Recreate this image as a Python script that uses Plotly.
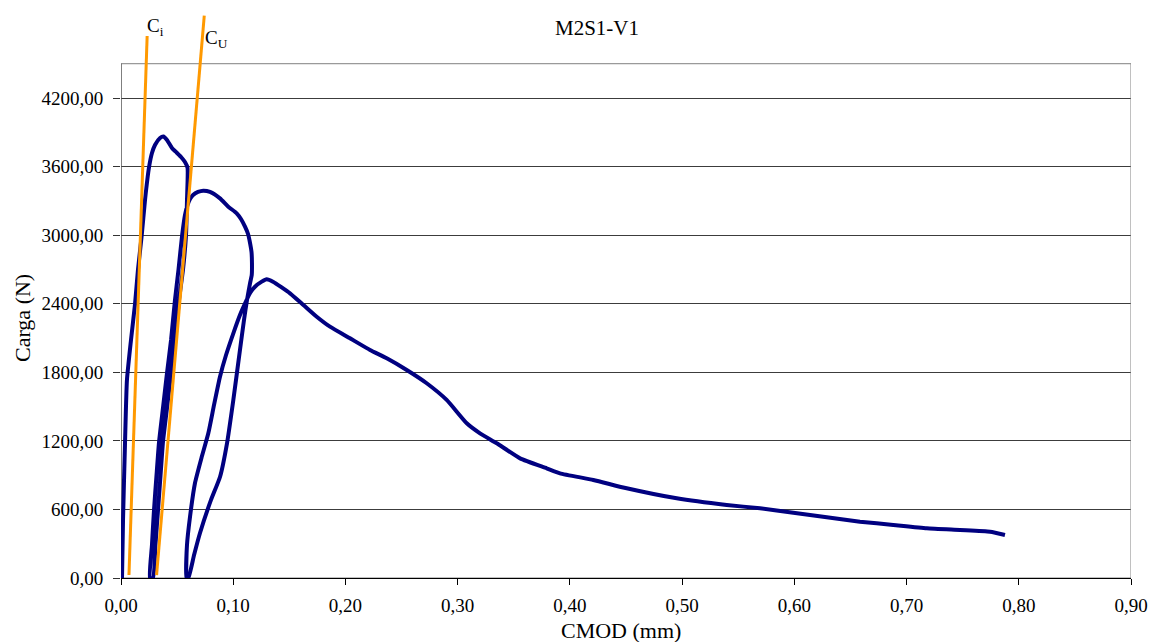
import plotly.graph_objects as go

# ---- data (CMOD in mm, load in N) ----
# first loading + peak
load1_x = [0.0009, 0.0018, 0.0036, 0.0053, 0.0089, 0.0125, 0.0151, 0.0184, 0.0214, 0.0250,
           0.0276, 0.0303, 0.0348, 0.0377, 0.0410, 0.0454, 0.0490, 0.0535, 0.0570, 0.0593]
load1_y = [0, 508, 1190, 1733, 2083, 2398, 2695, 2993, 3308, 3596,
           3719, 3789, 3850, 3863, 3833, 3763, 3728, 3684, 3640, 3588]
# first unloading
unload1_x = [0.0588, 0.0579, 0.0552, 0.0517, 0.0481, 0.0446, 0.0410, 0.0374, 0.0352, 0.0330, 0.0307, 0.0285]
unload1_y = [3308, 2993, 2695, 2433, 2083, 1794, 1488, 1190, 893, 595, 289, 0]
# reloading + second peak
load2_x = [0.0258, 0.0276, 0.0294, 0.0316, 0.0339, 0.0374, 0.0410, 0.0446, 0.0481, 0.0512,
           0.0544, 0.0570, 0.0593, 0.0615, 0.0642, 0.0686, 0.0733, 0.0793, 0.0882, 0.0956,
           0.1031, 0.1069, 0.1105, 0.1132, 0.1150, 0.1163, 0.1167]
load2_y = [0, 289, 595, 893, 1190, 1488, 1794, 2083, 2433, 2695,
           2993, 3176, 3264, 3316, 3351, 3378, 3389, 3378, 3322, 3249,
           3191, 3141, 3074, 3010, 2931, 2853, 2756]
# second unloading
unload2_x = [0.1165, 0.1150, 0.1123, 0.1096, 0.1060, 0.1001, 0.0945, 0.0882, 0.0802, 0.0704, 0.0651, 0.0600]
unload2_y = [2651, 2581, 2433, 2258, 1995, 1558, 1181, 884, 683, 394, 201, 0]
# final reloading + softening branch
load3_x = [0.0585, 0.0588, 0.0615, 0.0659, 0.0717, 0.0778, 0.0829, 0.0882, 0.0936, 0.1001,
           0.1060, 0.1120, 0.1150, 0.1194, 0.1254, 0.1298, 0.1354, 0.1506, 0.1625, 0.1744,
           0.1862, 0.2041, 0.2219, 0.2368, 0.2546, 0.2724, 0.2902, 0.3081, 0.3199, 0.3348,
           0.3556, 0.3793, 0.3912, 0.4209, 0.4506, 0.4952, 0.5397, 0.5694, 0.5991, 0.6289,
           0.6585, 0.6882, 0.7180, 0.7476, 0.7744, 0.7877]
load3_y = [0, 289, 536, 829, 1050, 1266, 1514, 1761, 1951, 2141,
           2301, 2433, 2494, 2549, 2593, 2614, 2593, 2491, 2389, 2286,
           2199, 2097, 1995, 1922, 1820, 1704, 1558, 1354, 1266, 1179,
           1047, 960, 916, 858, 785, 697, 639, 610, 571, 531,
           493, 464, 435, 420, 405, 376]

# compliance lines
ci_x = [0.0071, 0.0233]
ci_y = [26, 4743]
cu_x = [0.0317, 0.0742]
cu_y = [26, 4920]

x_ticks = [0.0, 0.1, 0.2, 0.3, 0.4, 0.5, 0.6, 0.7, 0.8, 0.9]
x_ticktext = ["0,00", "0,10", "0,20", "0,30", "0,40", "0,50", "0,60", "0,70", "0,80", "0,90"]
y_ticks = [0, 600, 1200, 1800, 2400, 3000, 3600, 4200]
y_ticktext = ["0,00", "600,00", "1200,00", "1800,00", "2400,00", "3000,00", "3600,00", "4200,00"]

cmod = load1_x + unload1_x + load2_x + unload2_x + load3_x
carga = load1_y + unload1_y + load2_y + unload2_y + load3_y

FONT = "Liberation Serif, Times New Roman, serif"

fig = go.Figure()
fig.add_trace(go.Scatter(x=cmod, y=carga, mode="lines",
                         line=dict(color="#000080", width=4, shape="spline", smoothing=0.5),
                         showlegend=False, hoverinfo="skip"))
fig.add_trace(go.Scatter(x=ci_x, y=ci_y, mode="lines",
                         line=dict(color="#FF9900", width=3), showlegend=False))
fig.add_trace(go.Scatter(x=cu_x, y=cu_y, mode="lines",
                         line=dict(color="#FF9900", width=3), showlegend=False))

Y_TOP = 5040
fig.update_layout(
    width=1158, height=642,
    margin=dict(l=121, r=27, t=2, b=64),
    paper_bgcolor="white", plot_bgcolor="white",
    font=dict(family=FONT, color="black", size=19),
    xaxis=dict(range=[0, 0.9], tickvals=x_ticks, ticktext=x_ticktext,
               showgrid=False, zeroline=False, showline=True, linecolor="black",
               linewidth=1, ticks="outside", ticklen=6, tickcolor="black",
               tickfont=dict(family=FONT, size=19), ticklabelstandoff=4),
    yaxis=dict(range=[0, Y_TOP], tickvals=y_ticks, ticktext=y_ticktext,
               showgrid=True, gridcolor="#3c3c3c", gridwidth=1,
               zeroline=False, showline=False, ticks="outside", ticklen=7,
               tickcolor="#333333", tickfont=dict(family=FONT, size=19),
               ticklabelstandoff=6),
    shapes=[
        dict(type="rect", xref="x", yref="y", x0=0, x1=0.9, y0=0, y1=4500,
             line=dict(color="#808080", width=1), layer="between"),
        dict(type="line", xref="x", yref="y", x0=0, x1=0, y0=0, y1=4500,
             line=dict(color="#404040", width=1), layer="between"),
    ],
    annotations=[
        dict(text="M2S1-V1", xref="paper", yref="paper", x=(597 - 121) / 1010,
             y=(578 - 28) / 576, xanchor="center", yanchor="middle", showarrow=False,
             font=dict(family=FONT, size=21)),
        dict(text="CMOD (mm)", xref="paper", yref="paper", x=(621 - 121) / 1010,
             y=(578 - 630) / 576, xanchor="center", yanchor="middle", showarrow=False,
             font=dict(family=FONT, size=22)),
        dict(text="Carga (N)", xref="paper", yref="paper", x=(22 - 121) / 1010,
             y=(578 - 318) / 576, xanchor="center", yanchor="middle", showarrow=False,
             textangle=-90, font=dict(family=FONT, size=22)),
        dict(text="C<sub>i</sub>", xref="paper", yref="paper", x=(145 - 121) / 1010,
             y=(578 - 27) / 576, xanchor="left", yanchor="middle", showarrow=False,
             font=dict(family=FONT, size=19)),
        dict(text="C<sub>U</sub>", xref="paper", yref="paper", x=(203 - 121) / 1010,
             y=(578 - 39) / 576, xanchor="left", yanchor="middle", showarrow=False,
             font=dict(family=FONT, size=19)),
    ],
)

fig.write_html("out.html", config={"displayModeBar": False},
               post_script="document.body.style.margin='0';")
